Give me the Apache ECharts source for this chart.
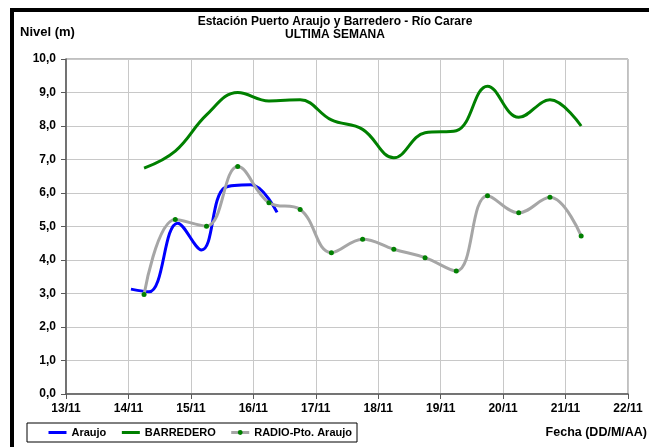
<!DOCTYPE html>
<html>
<head>
<meta charset="utf-8">
<script src="https://cdn.jsdelivr.net/npm/echarts@6/dist/echarts.min.js"></script>
<style>
  html, body { margin: 0; padding: 0; background: #fff; }
  #chart { width: 649px; height: 447px; }
</style>
</head>
<body>
<div id="chart"></div>
<script>
// x values are days of November (fractional = time of day)
const dayTicks = [13, 14, 15, 16, 17, 18, 19, 20, 21, 22];

const araujoDays = [14.04, 14.33, 14.79, 15.17, 15.55, 15.96, 16.38];
const araujoLevels = [3.13, 3.05, 5.10, 4.30, 6.17, 6.25, 5.42];

const obsDays = [14.25, 14.75, 15.25, 15.75, 16.25, 16.75, 17.25, 17.75, 18.25, 18.75, 19.25, 19.75, 20.25, 20.75, 21.25];
const barrederoLevels = [6.74, 7.25, 8.33, 9.00, 8.75, 8.78, 8.18, 7.90, 7.05, 7.80, 7.86, 9.19, 8.26, 8.78, 8.00];
const radioLevels = [2.97, 5.21, 5.01, 6.79, 5.71, 5.51, 4.22, 4.62, 4.32, 4.07, 3.67, 5.92, 5.41, 5.87, 4.72];

const pairs = (xs, ys) => xs.map((x, i) => [x, ys[i]]);

const FONT = '"Liberation Sans", Arial, sans-serif';
const chart = echarts.init(document.getElementById('chart'));

chart.setOption({
  animation: false,
  textStyle: { fontFamily: FONT },
  grid: {
    left: 66, right: 21, top: 59, bottom: 53,
    show: true, borderColor: '#808080', borderWidth: 1
  },
  graphic: [
    // thick black frame (left and top only)
    { type: 'rect', shape: { x: 10, y: 8, width: 4, height: 439 }, style: { fill: '#000' } },
    { type: 'rect', shape: { x: 10, y: 8, width: 639, height: 4 }, style: { fill: '#000' } },
    { type: 'text', x: 335, y: 22, style: { text: 'Estación Puerto Araujo y Barredero - Río Carare', font: 'bold 12px ' + FONT, textAlign: 'center', textVerticalAlign: 'middle', fill: '#000' } },
    { type: 'text', x: 335, y: 35, style: { text: 'ULTIMA SEMANA', font: 'bold 12px ' + FONT, textAlign: 'center', textVerticalAlign: 'middle', fill: '#000' } },
    { type: 'text', x: 20, y: 32, style: { text: 'Nivel (m)', font: 'bold 13px ' + FONT, textAlign: 'left', textVerticalAlign: 'middle', fill: '#000' } },
    { type: 'text', x: 647, y: 433, style: { text: 'Fecha (DD/M/AA)', font: 'bold 12.5px ' + FONT, textAlign: 'right', textVerticalAlign: 'middle', fill: '#000' } }
  ],
  legend: {
    left: 27, top: 423,
    padding: [4, 5, 4, 20],
    borderColor: '#000', borderWidth: 1,
    itemWidth: 18, itemHeight: 6, itemGap: 14,
    lineStyle: { width: 3 },
    textStyle: { fontFamily: FONT, fontSize: 11, fontWeight: 'bold', color: '#000' },
    data: [
      { name: 'Araujo', itemStyle: { opacity: 0 } },
      { name: 'BARREDERO', itemStyle: { opacity: 0 } },
      { name: 'RADIO-Pto. Araujo' }
    ]
  },
  xAxis: {
    type: 'value',
    min: dayTicks[0], max: dayTicks[dayTicks.length - 1], interval: 1,
    axisLine: { lineStyle: { color: '#595959', width: 1.5 } },
    axisTick: { show: true, length: 5, lineStyle: { color: '#595959' } },
    axisLabel: { color: '#000', fontSize: 12, fontWeight: 'bold', margin: 9, formatter: v => v + '/11' },
    splitLine: { show: true, lineStyle: { color: '#c8c8c8', width: 1 } }
  },
  yAxis: {
    type: 'value',
    min: 0, max: 10, interval: 1,
    axisLine: { show: true, lineStyle: { color: '#595959', width: 1.5 } },
    axisTick: { show: true, length: 5, lineStyle: { color: '#595959' } },
    axisLabel: { color: '#000', fontSize: 12, fontWeight: 'bold', margin: 10, formatter: v => v.toFixed(1).replace('.', ',') },
    splitLine: { show: true, lineStyle: { color: '#c8c8c8', width: 1 } }
  },
  series: [
    {
      name: 'Araujo', type: 'line', smooth: 0.4, symbol: 'none',
      lineStyle: { color: '#0000ff', width: 3 }, itemStyle: { color: '#0000ff' },
      data: pairs(araujoDays, araujoLevels)
    },
    {
      name: 'BARREDERO', type: 'line', smooth: 0.4, symbol: 'none',
      lineStyle: { color: '#008000', width: 3 }, itemStyle: { color: '#008000' },
      data: pairs(obsDays, barrederoLevels)
    },
    {
      name: 'RADIO-Pto. Araujo', type: 'line', smooth: 0.4, symbol: 'circle', symbolSize: 5,
      lineStyle: { color: '#a6a6a6', width: 3 }, itemStyle: { color: '#008000', borderWidth: 0 },
      data: pairs(obsDays, radioLevels)
    }
  ]
});
</script>
</body>
</html>
